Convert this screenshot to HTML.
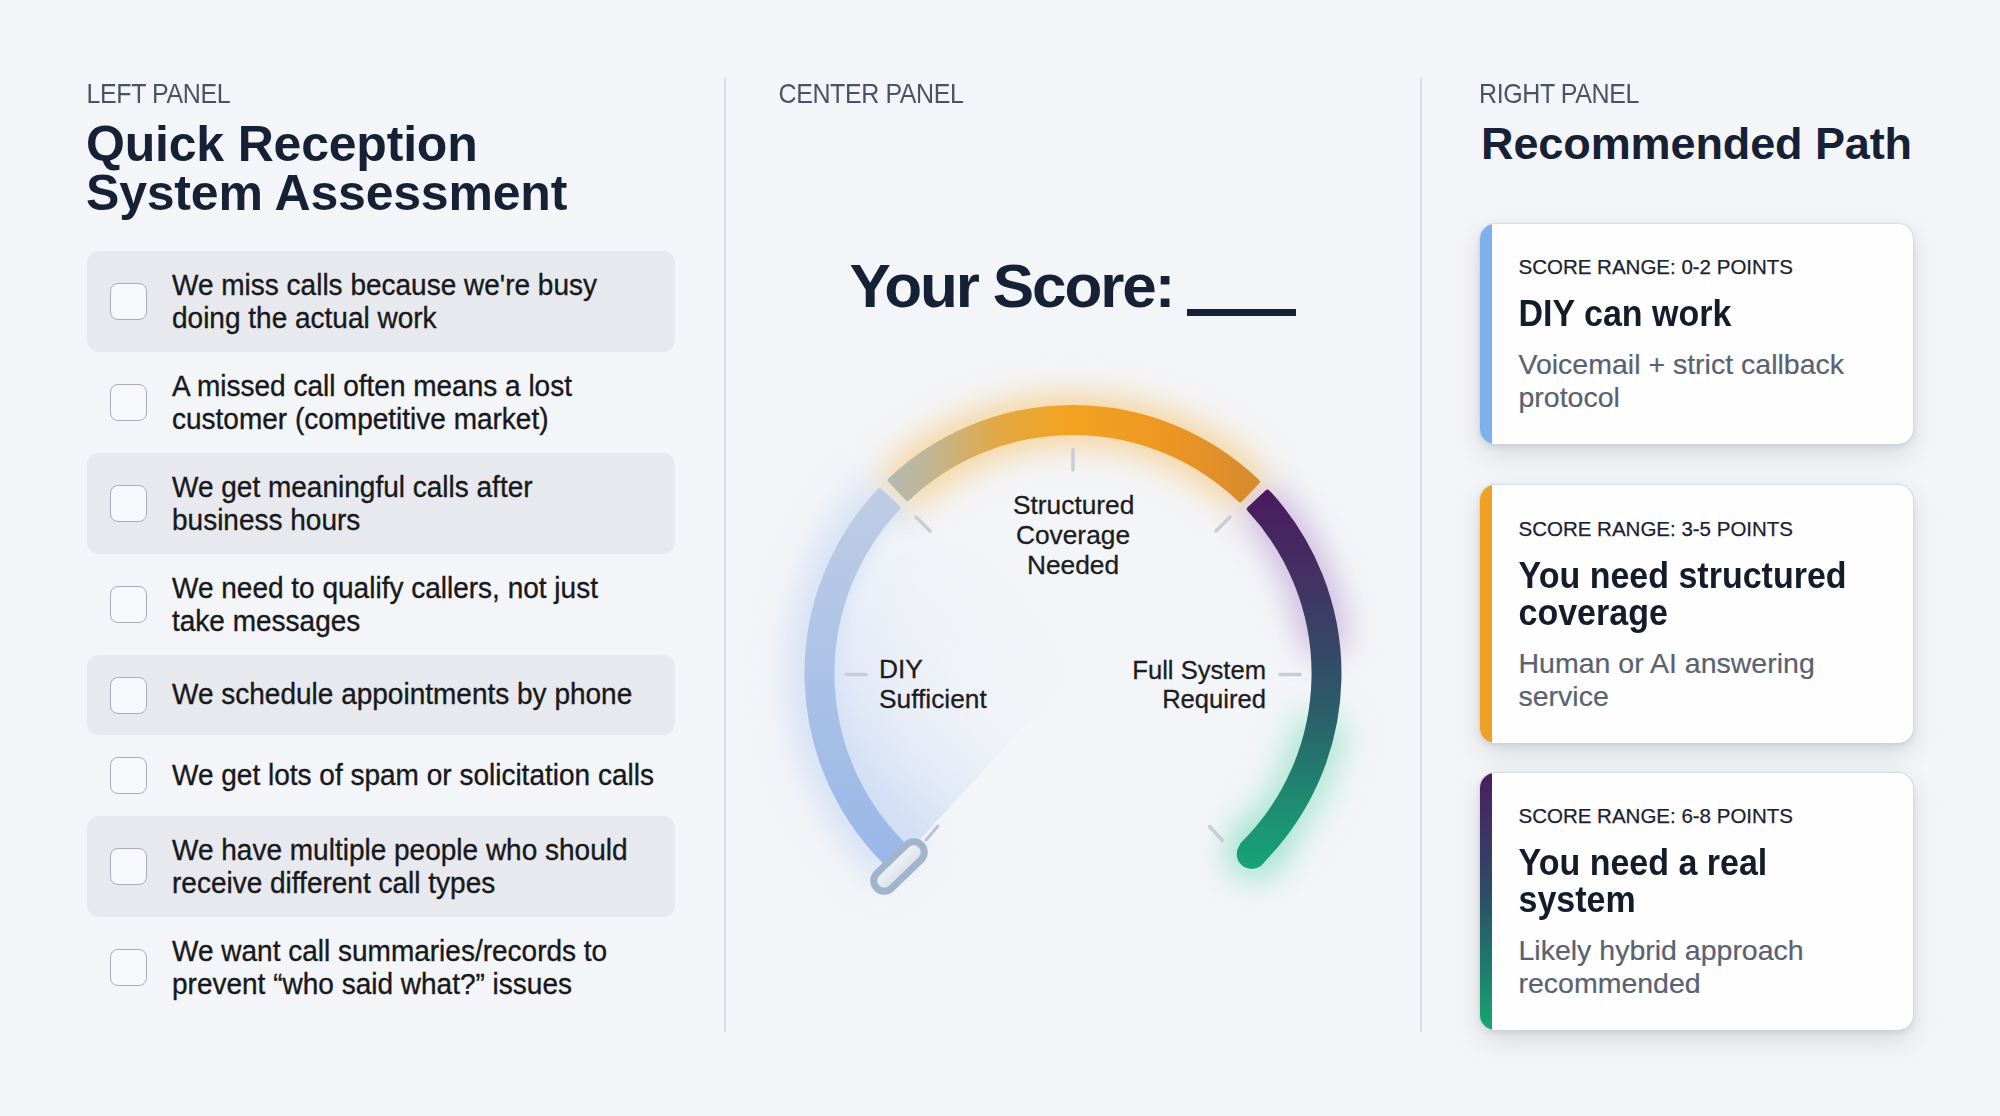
<!DOCTYPE html>
<html><head><meta charset="utf-8">
<style>
*{margin:0;padding:0;box-sizing:border-box}
html,body{width:2000px;height:1116px;overflow:hidden}
body{position:relative;background:#f4f5f8;font-family:"Liberation Sans",sans-serif;color:#1b1c20}
.abs{position:absolute;white-space:nowrap}
.lbl{font-size:25px;line-height:30px;color:#4b5263;letter-spacing:-0.4px;transform:scaleY(1.1);transform-origin:0 23.65px}
.h1{font-size:50px;line-height:49px;font-weight:700;color:#172136;letter-spacing:-0.2px}
.div{position:absolute;top:78px;width:2px;height:954px;background:#dcdfe5}
.row{position:absolute;left:87px;width:588px;border-radius:12px}
.row.sh{background:#e8e9ee}
.cb{position:absolute;left:23px;width:37px;height:37px;border:1.6px solid #a9adb7;border-radius:8px;background:#f7f8fb}
.rt{position:absolute;left:85px;top:50%;transform:translateY(-50%) scaleY(1.07);font-size:28px;line-height:30.84px;color:#18191d;-webkit-text-stroke:0.35px #18191d}
.card{position:absolute;left:1480px;width:433px;background:#fefefe;border-radius:15px;overflow:hidden;box-shadow:0 0 0 1px rgba(205,209,218,0.6),0 10px 28px rgba(25,35,55,0.13),0 3px 7px rgba(25,35,55,0.09)}
.card .acc{position:absolute;left:0;top:0;bottom:0;width:12px}
.ct{position:absolute;left:38.5px;white-space:nowrap}
.cl{font-size:20.5px;line-height:24px;color:#1c2130;-webkit-text-stroke:0.25px #1c2130}
.ch{font-size:34px;line-height:34.6px;font-weight:700;color:#151b2b;transform:scaleY(1.07);transform-origin:0 29.08px}
.cd{font-size:28.5px;line-height:33px;color:#5a6171;-webkit-text-stroke:0.2px #5a6171}
.gl{font-size:26.3px;line-height:29.75px;color:#1c1d22;-webkit-text-stroke:0.3px #1c1d22}
</style></head><body>

<!-- dividers -->
<div class="div" style="left:724px"></div>
<div class="div" style="left:1420px"></div>

<!-- LEFT PANEL -->
<div class="abs lbl" style="left:86.5px;top:79px">LEFT PANEL</div>
<div class="abs h1" style="left:86px;top:120px">Quick Reception<br>System Assessment</div>

<div class="row sh" style="top:251px;height:101px">
  <div class="cb" style="top:32px"></div>
  <div class="rt">We miss calls because we're busy<br>doing the actual work</div>
</div>
<div class="row" style="top:352px;height:101px">
  <div class="cb" style="top:32px"></div>
  <div class="rt">A missed call often means a lost<br>customer (competitive market)</div>
</div>
<div class="row sh" style="top:453px;height:101px">
  <div class="cb" style="top:32px"></div>
  <div class="rt">We get meaningful calls after<br>business hours</div>
</div>
<div class="row" style="top:554px;height:101px">
  <div class="cb" style="top:32px"></div>
  <div class="rt">We need to qualify callers, not just<br>take messages</div>
</div>
<div class="row sh" style="top:655px;height:80px">
  <div class="cb" style="top:22px"></div>
  <div class="rt">We schedule appointments by phone</div>
</div>
<div class="row" style="top:735px;height:81px">
  <div class="cb" style="top:22px"></div>
  <div class="rt">We get lots of spam or solicitation calls</div>
</div>
<div class="row sh" style="top:816px;height:101px">
  <div class="cb" style="top:32px"></div>
  <div class="rt">We have multiple people who should<br>receive different call types</div>
</div>
<div class="row" style="top:917px;height:101px">
  <div class="cb" style="top:32px"></div>
  <div class="rt">We want call summaries/records to<br>prevent “who said what?” issues</div>
</div>

<!-- CENTER PANEL -->
<div class="abs lbl" style="left:778.5px;top:79px">CENTER PANEL</div>
<div class="abs" style="left:849.5px;top:253px;font-size:62px;line-height:66px;font-weight:700;color:#172136;letter-spacing:-2.1px">Your Score:</div>
<div class="abs" style="left:1187px;top:309px;width:109px;height:7px;background:#172136"></div>

<!-- GAUGE -->
<svg class="abs" style="left:0;top:0" width="2000" height="1116" viewBox="0 0 2000 1116">
  <defs>
    <filter id="blur20" filterUnits="userSpaceOnUse" x="600" y="250" width="950" height="850"><feGaussianBlur stdDeviation="18"/></filter>
    <filter id="blur10" filterUnits="userSpaceOnUse" x="600" y="250" width="950" height="850"><feGaussianBlur stdDeviation="10"/></filter>
    <filter id="blur4" filterUnits="userSpaceOnUse" x="600" y="250" width="950" height="850"><feGaussianBlur stdDeviation="2"/></filter>
    <filter id="shd" filterUnits="userSpaceOnUse" x="800" y="780" width="200" height="200"><feGaussianBlur stdDeviation="5"/></filter>
    <linearGradient id="gBlue" gradientUnits="userSpaceOnUse" x1="0" y1="862" x2="0" y2="490">
      <stop offset="0" stop-color="#9ab7e8"/>
      <stop offset="0.5" stop-color="#abc2e7"/>
      <stop offset="1" stop-color="#bfcce4"/>
    </linearGradient>
    <linearGradient id="gOr" gradientUnits="userSpaceOnUse" x1="890" y1="0" x2="1258" y2="0">
      <stop offset="0" stop-color="#b7b8b3"/>
      <stop offset="0.12" stop-color="#c2b590"/>
      <stop offset="0.3" stop-color="#e3a842"/>
      <stop offset="0.48" stop-color="#f3a321"/>
      <stop offset="0.75" stop-color="#ec9723"/>
      <stop offset="1" stop-color="#d78a2e"/>
    </linearGradient>
    <linearGradient id="gDk" gradientUnits="userSpaceOnUse" x1="0" y1="490" x2="0" y2="868">
      <stop offset="0" stop-color="#4a1a5e"/>
      <stop offset="0.22" stop-color="#443063"/>
      <stop offset="0.42" stop-color="#354866"/>
      <stop offset="0.6" stop-color="#2b5f69"/>
      <stop offset="0.82" stop-color="#1f8b72"/>
      <stop offset="1" stop-color="#17a474"/>
    </linearGradient>
    <radialGradient id="gWedge" gradientUnits="userSpaceOnUse" cx="1073" cy="673.5" r="250">
      <stop offset="0" stop-color="#e2eaf7" stop-opacity="0"/>
      <stop offset="0.35" stop-color="#e2eaf7" stop-opacity="0.25"/>
      <stop offset="0.8" stop-color="#d6e2f6" stop-opacity="0.85"/>
      <stop offset="1" stop-color="#cbdaf4" stop-opacity="1"/>
    </radialGradient>
    <linearGradient id="gPill" x1="0" y1="0" x2="0" y2="1">
      <stop offset="0" stop-color="#f2f5f9"/>
      <stop offset="1" stop-color="#d9dfe8"/>
    </linearGradient>
    <clipPath id="wclip"><path d="M1073 673.5 L936.2 297.6 L673.0 673.5 L801.7 967.5 Z"/></clipPath>
    <linearGradient id="gFade" gradientUnits="userSpaceOnUse" x1="0" y1="540" x2="0" y2="800">
      <stop offset="0" stop-color="#fff" stop-opacity="0"/>
      <stop offset="1" stop-color="#fff" stop-opacity="1"/>
    </linearGradient>
    <mask id="wmask" maskUnits="userSpaceOnUse" x="600" y="250" width="950" height="850"><rect x="600" y="250" width="950" height="850" fill="url(#gFade)"/></mask>
  </defs>
  <!-- glows -->
  <path d="M903.4 861.9 A253.5 253.5 0 0 1 890.6 497.4" fill="none" stroke="#b7cdf2" stroke-width="64" opacity="0.5" filter="url(#blur20)"/>
  <path d="M918.8 833.2 A222 222 0 0 1 902.9 530.8" fill="none" stroke="#ffffff" stroke-width="26" opacity="0.55" filter="url(#blur10)"/>
  <path d="M896.9 491.1 A253.5 253.5 0 0 1 1250.7 492.7" fill="none" stroke="#f8b64a" stroke-width="46" opacity="0.6" filter="url(#blur20)"/>
  <path d="M1256.6 498.7 A253.5 253.5 0 0 1 1325.5 651.4" fill="none" stroke="#8b55b5" stroke-width="40" opacity="0.45" filter="url(#blur20)"/>
  <path d="M1322.6 717.5 A253.5 253.5 0 0 1 1251.3 853.7" fill="none" stroke="#52d3a3" stroke-width="46" opacity="0.5" filter="url(#blur20)"/>
  <circle cx="1251.7" cy="854.0" r="26" fill="#52d3a3" opacity="0.45" filter="url(#blur20)"/>
  <!-- wedge -->
  <g clip-path="url(#wclip)"><g mask="url(#wmask)">
    <path d="M1073 673.5 L912.3 482.0 A250 250 0 0 0 929.6 878.3 Z" fill="url(#gWedge)" filter="url(#blur10)"/>
  </g></g>
  <!-- arcs -->
  <path d="M893.0 869.3 A266 266 0 0 1 879.7 490.7 L897.9 507.9 A241 241 0 0 0 909.9 850.9 Z" fill="url(#gBlue)" stroke="url(#gBlue)" stroke-width="5" stroke-linejoin="round"/>
  <path d="M890.2 480.2 A266 266 0 0 1 1257.4 481.8 L1240.1 499.8 A241 241 0 0 0 907.4 498.4 Z" fill="url(#gOr)" stroke="url(#gOr)" stroke-width="5" stroke-linejoin="round"/>
  <path d="M1267.5 492.1 A266 266 0 0 1 1260.1 862.6 L1242.5 844.8 A241 241 0 0 0 1249.3 509.1 Z" fill="url(#gDk)" stroke="url(#gDk)" stroke-width="5" stroke-linejoin="round"/>
  <circle cx="1251.7" cy="854.0" r="15" fill="url(#gDk)"/>
  <!-- ticks -->
  <g stroke="#c9cdd5" stroke-width="3.5" stroke-linecap="round">
    <line x1="866" y1="674.5" x2="846" y2="674.5"/>
    <line x1="930" y1="531" x2="916" y2="517"/>
    <line x1="1073" y1="470" x2="1073" y2="449.5"/>
    <line x1="1216" y1="531" x2="1230" y2="517"/>
    <line x1="1280" y1="674.5" x2="1300" y2="674.5"/>
    <line x1="1209.5" y1="826.5" x2="1222.5" y2="840.5"/>
  </g>
  <line x1="938" y1="826" x2="926" y2="840" stroke="#b9c3cf" stroke-width="3" stroke-linecap="round"/>
  <!-- handle -->
  <g transform="translate(899 866.5) rotate(-44)">
    <rect x="-32" y="-10" width="69" height="28" rx="14" fill="#5d6f8a" opacity="0.35" filter="url(#shd)"/>
    <rect x="-31" y="-10.5" width="62" height="21" rx="10.5" fill="url(#gPill)" stroke="#a2b4cb" stroke-width="7"/>
  </g>
</svg>

<div class="abs gl" style="left:1013px;top:491px;width:120px;text-align:center">Structured<br>Coverage<br>Needed</div>
<div class="abs gl" style="left:879px;top:655px">DIY<br>Sufficient</div>
<div class="abs gl" style="left:1066px;top:655.5px;width:200px;text-align:right;font-size:25.6px">Full System<br>Required</div>

<!-- RIGHT PANEL -->
<div class="abs lbl" style="left:1479px;top:79px">RIGHT PANEL</div>
<div class="abs" style="left:1481px;top:117.5px;font-size:45px;line-height:52px;font-weight:700;color:#172136;letter-spacing:-0.1px">Recommended Path</div>

<div class="card" style="top:224px;height:220px">
  <div class="acc" style="background:#7fb0ee"></div>
  <div class="ct cl" style="top:31px">SCORE RANGE: 0-2 POINTS</div>
  <div class="ct ch" style="top:73.4px">DIY can work</div>
  <div class="ct cd" style="top:124px">Voicemail + strict callback<br>protocol</div>
</div>
<div class="card" style="top:485px;height:258px">
  <div class="acc" style="background:#eea124"></div>
  <div class="ct cl" style="top:32px">SCORE RANGE: 3-5 POINTS</div>
  <div class="ct ch" style="top:73.9px">You need structured<br>coverage</div>
  <div class="ct cd" style="top:162px">Human or AI answering<br>service</div>
</div>
<div class="card" style="top:773px;height:257px">
  <div class="acc" style="background:linear-gradient(#4b1d62,#2f4a66 45%,#1f7a6c 75%,#16a874)"></div>
  <div class="ct cl" style="top:31px">SCORE RANGE: 6-8 POINTS</div>
  <div class="ct ch" style="top:73.4px">You need a real<br>system</div>
  <div class="ct cd" style="top:161px">Likely hybrid approach<br>recommended</div>
</div>

</body></html>
